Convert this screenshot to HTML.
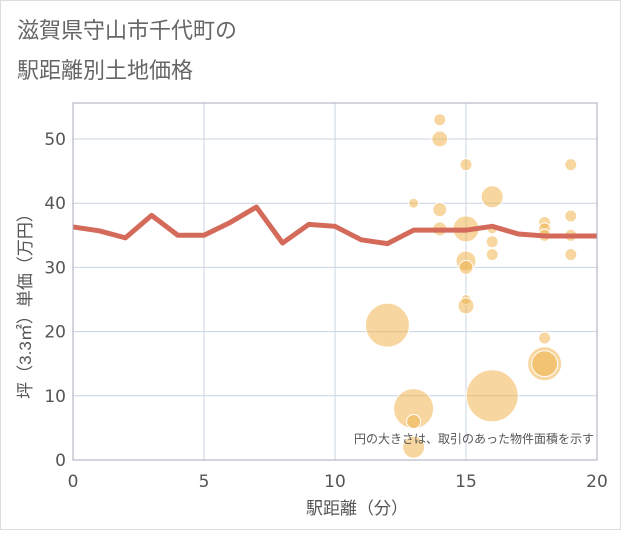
<!DOCTYPE html>
<html><head><meta charset="utf-8"><style>
body{margin:0;background:#fff;}
svg text{font-family:"Liberation Sans","Noto Sans CJK JP",sans-serif;}
svg text.num{font-family:"DejaVu Sans",sans-serif;}
</style></head><body>
<svg width="621" height="530" xmlns="http://www.w3.org/2000/svg">
<rect x="0.5" y="0.5" width="620" height="529" fill="#fff" stroke="#ddd"/>
<text x="17" y="38" font-size="22" fill="#666">滋賀県守山市千代町の</text>
<text x="17" y="78" font-size="22" fill="#666">駅距離別土地価格</text>
<g id="grid"></g>
<g id="bubbles"></g>
<g id="line"></g>
<rect x="73" y="103" width="524" height="357" fill="none" stroke="#aab" />
<text x="594" y="443" font-size="12" fill="#555" text-anchor="end">円の大きさは、取引のあった物件面積を示す</text>
<text x="357" y="514" font-size="17" fill="#555" text-anchor="middle">駅距離（分）</text>
<text transform="translate(31,302) rotate(-90)" font-size="17" fill="#555" text-anchor="middle">坪（3.3㎡）単価（万円）</text>
</svg>
<script>
const xTicks=[0,5,10,15,20];
const yTicks=[0,10,20,30,40,50];
const lineX=[0,1,2,3,4,5,6,7,8,9,10,11,12,13,14,15,16,17,18,19,20];
const lineY=[36.3,35.7,34.6,38.1,35,35,37,39.4,33.8,36.7,36.4,34.3,33.7,35.8,35.8,35.8,36.4,35.2,34.9,34.9,34.9];
const bubX=[12,13,13,13,13,14,14,14,14,15,15,15,15,15,15,16,16,16,16,16,18,18,18,18,18,18,19,19,19,19];
const bubY=[21,8,6,2,40,53,50,39,36,46,36,31,30,25,24,41,36,34,32,10,37,36,35,19,15,15,46,38,35,32];
const bubR=[22,20,7,11,5,6,8,7,7,6,13,10,7,5,8,11,5,6,6,26,6,6,6,6,17,13,6,6,6,6];
const NS="http://www.w3.org/2000/svg";
const X=v=>73+v*524/20, Y=v=>460-v*6.42;
const g=document.getElementById('grid');
function mk(tag,attrs,parent){const e=document.createElementNS(NS,tag);for(const k in attrs)e.setAttribute(k,attrs[k]);parent.appendChild(e);return e;}
xTicks.forEach(t=>{
 const l=mk('line',{x1:X(t),x2:X(t),y1:103,y2:460,stroke:'#c8d4e0'},g);
 
 
 const tx=mk('text',{x:X(t),y:487,'font-size':17,fill:'#555','text-anchor':'middle',class:'num'},g);
 tx.textContent=t;
 
 
});
yTicks.forEach(t=>{
 const l=mk('line',{x1:73,x2:597,y1:Y(t),y2:Y(t),stroke:'#c8d4e0'},g);
 
 
 const tx=mk('text',{x:66,y:Y(t)+6,'font-size':17,fill:'#555','text-anchor':'end',class:'num'},g);
 tx.textContent=t;
 
 
});
const bg=document.getElementById('bubbles');
bubX.forEach((x,i)=>{
 const c=mk('circle',{cx:X(x),cy:Y(bubY[i]),r:bubR[i],fill:'rgba(240,180,80,0.55)',stroke:'#fff','stroke-width':1},bg);
 
 
});
const p=mk('polyline',{points:lineX.map((x,i)=>X(x)+','+Y(lineY[i])).join(' '),fill:'none',stroke:'#d46a5a','stroke-width':5,'stroke-linejoin':'round'},document.getElementById('line'));


</script>
</body></html>
